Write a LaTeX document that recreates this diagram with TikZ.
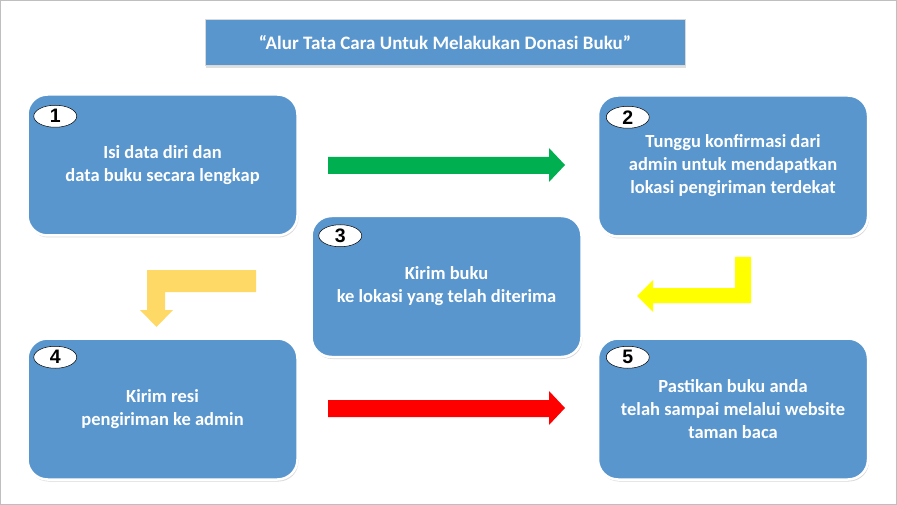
\documentclass[tikz,border=0pt]{standalone}
\usepackage{fontspec}
\setmainfont{Carlito}
\newfontfamily\numfont{Liberation Sans}
\usepackage{xcolor}
\usetikzlibrary{shapes.geometric,shadows,calc}

\definecolor{boxblue}{RGB}{89,150,205}
\definecolor{arrowgreen}{RGB}{0,176,80}
\definecolor{arrowred}{RGB}{255,0,0}
\definecolor{arrowgold}{RGB}{255,217,102}
\definecolor{arrowyellow}{RGB}{255,255,0}

\begin{document}
\begin{tikzpicture}[x=1pt,y=-1pt,
      stepbox/.style = {draw=white, line width=2.5pt, fill=boxblue, rounded corners=20pt,
                        minimum width=270pt, minimum height=141pt, align=center, text=white,
                        font=\bfseries\fontsize{18.5}{23}\selectfont,
                        drop shadow={shadow xshift=1pt, shadow yshift=-2pt, opacity=0.3}},
      numbox/.style = {ellipse, draw=black, line width=0.5pt, fill=white, minimum width=43pt,
                       minimum height=22pt, inner sep=0pt, font=\numfont\bfseries\fontsize{19.5}{19.5}\selectfont},
      titlebox/.style = {draw=white!85!black, line width=1pt, fill=boxblue, minimum width=480pt,
                         minimum height=46pt, text=white, font=\bfseries\fontsize{19}{22}\selectfont,
                         drop shadow={shadow xshift=1pt, shadow yshift=-2pt, opacity=0.25}}]
      \useasboundingbox (0,0) rectangle (897,505);
      \draw[black!25] (0.5,0.5) rectangle (896.5,504.5);

      % title
      \node[titlebox] (title) at (445,43) {``Alur Tata Cara Untuk Melakukan Donasi Buku''};

      % steps
      \node[stepbox] (s1) at (162.5,165) {Isi data diri dan\\data buku secara lengkap};
      \node[stepbox] (s2) at (733,166) {Tunggu konfirmasi dari\\admin untuk mendapatkan\\lokasi pengiriman terdekat};
      \node[stepbox] (s3) at (446.5,286.5) {Kirim buku\\ke lokasi yang telah diterima};
      \node[stepbox] (s4) at (162.5,409) {Kirim resi\\pengiriman ke admin};
      \node[stepbox] (s5) at (733,409) {Pastikan buku anda\\telah sampai melalui website\\taman baca};

      % numbers
      \node[numbox] (n1) at ($(s1.north west)+(29,23)$) {1};
      \node[numbox] (n2) at ($(s2.north west)+(31,23)$) {2};
      \node[numbox] (n3) at ($(s3.north west)+(30,21)$) {3};
      \node[numbox] (n4) at ($(s4.north west)+(29,20)$) {4};
      \node[numbox] (n5) at ($(s5.north west)+(31,20)$) {5};

      % block arrows
      \fill[arrowgreen] (328,157) -- (549,157) -- (549,148) -- (565,165) -- (549,182)
            -- (549,174) -- (328,174) -- cycle;
      \fill[arrowred] (328,400) -- (549,400) -- (549,391) -- (565,408) -- (549,425)
            -- (549,417) -- (328,417) -- cycle;
      \fill[arrowgold] (256,270) -- (256,292) -- (165,292) -- (165,310) -- (173,310)
            -- (156.5,327) -- (140,310) -- (147,310) -- (147,270) -- cycle;
      \fill[arrowyellow] (751,257) -- (751,303) -- (653,303) -- (653,312) -- (637,296)
            -- (653,280) -- (653,288) -- (735,288) -- (735,257) -- cycle;
\end{tikzpicture}
\end{document}
